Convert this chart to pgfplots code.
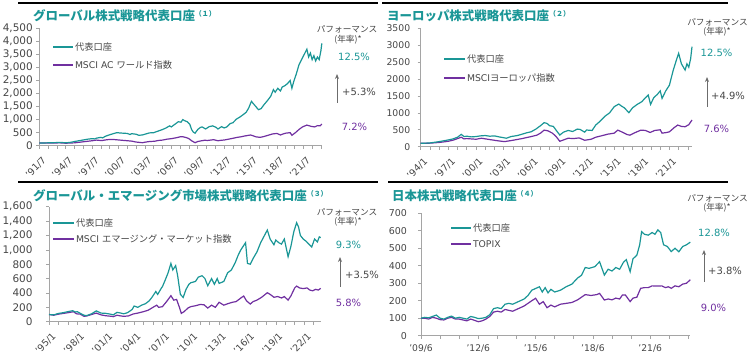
\documentclass[border=0pt]{standalone}
\usepackage{fontspec}
\setmainfont{DejaVu Sans}
\newfontfamily\jp{Noto Sans CJK JP}
\usepackage{pgfplots}
\pgfplotsset{compat=1.18}
\usetikzlibrary{arrows.meta}
\definecolor{tealc}{RGB}{26,150,150}
\definecolor{purp}{RGB}{112,48,160}
\definecolor{axgray}{RGB}{165,165,165}
\definecolor{txtgray}{RGB}{70,70,70}
\newcommand\fs[1]{\fontsize{#1}{#1}\selectfont}
\pgfplotsset{
  panel/.style={
    scale only axis, anchor=south west,
    axis x line*=bottom, axis y line*=left,
    axis line style={axgray, line width=0.8bp},
    every tick/.style={axgray, line width=0.6bp},
    tick align=outside, major tick length=3bp, minor tick length=3bp,
    ymin=0, clip=false,
    ticklabel style={txtgray},
    /pgf/number format/assume math mode=true,
    tealp/.style={tealc, line width=1.2bp},
    purpp/.style={purp, line width=1.2bp},
  },
  rotx/.style={xticklabel style={rotate=45, anchor=north east, font=\fs{9.5}, yshift=-3.5bp}},
}
\begin{document}
\begin{tikzpicture}
\useasboundingbox (0bp,0bp) rectangle (750bp,360bp);
% ---------------- Panel 1 ----------------
\begin{axis}[panel, rotx, at={(39.3bp,214.3bp)}, width=282.7bp, height=117.4bp,
  xmin=1991.5, xmax=2023.62, ymax=4500, ytick={0,500,...,4500},
  yticklabel style={font=\fs{10.5}},
  xtick={1991.5,1994.5,...,2021.5},
  minor xtick={1991.5,1992.5,...,2023.5},
  xticklabels={'91/7,'94/7,'97/7,'00/7,'03/7,'06/7,'09/7,'12/7,'15/7,'18/7,'21/7}]
\addplot[purpp] coordinates {(1991.5,100)(1992.3,105)(1993.0,100)(1993.8,110)(1994.5,95)(1995.5,110)(1996.5,150)(1997.5,190)(1998.0,215)(1998.6,195)(1999.0,220)(1999.5,240)(2000.0,235)(2000.5,220)(2001.0,205)(2001.5,190)(2002.0,175)(2002.5,140)(2003.2,115)(2003.7,145)(2004.0,160)(2004.6,170)(2005.0,200)(2005.5,215)(2006.0,250)(2006.5,270)(2007.0,300)(2007.5,340)(2007.8,345)(2008.2,310)(2008.5,270)(2008.8,190)(2009.2,115)(2009.5,160)(2009.8,180)(2010.3,210)(2010.6,200)(2011.3,230)(2011.8,190)(2012.2,210)(2012.5,217)(2013.0,250)(2013.3,270)(2014.0,320)(2014.4,340)(2014.8,370)(2015.5,410)(2015.8,380)(2016.1,340)(2016.6,320)(2017.0,350)(2017.3,380)(2018.0,450)(2018.5,470)(2018.9,410)(2019.2,450)(2019.5,480)(2020.0,500)(2020.2,400)(2020.6,500)(2021.0,620)(2021.4,720)(2021.9,790)(2022.2,760)(2022.4,740)(2022.8,720)(2023.1,770)(2023.4,760)(2023.6,830)};
\addplot[tealp] coordinates {(1991.5,100)(1992.0,105)(1992.5,110)(1993.0,115)(1993.5,120)(1994.0,125)(1994.5,110)(1995.0,125)(1995.5,160)(1996.0,190)(1996.5,220)(1997.0,250)(1997.5,270)(1997.8,260)(1998.0,290)(1998.5,320)(1998.7,300)(1999.0,360)(1999.5,420)(2000.0,470)(2000.3,500)(2000.6,490)(2001.0,480)(2001.5,470)(2001.8,430)(2002.0,460)(2002.5,440)(2002.8,400)(2003.2,410)(2003.6,450)(2004.0,490)(2004.5,500)(2005.0,560)(2005.5,620)(2005.9,680)(2006.3,760)(2006.5,720)(2006.9,820)(2007.3,920)(2007.6,900)(2007.8,1000)(2008.0,960)(2008.3,920)(2008.6,820)(2008.8,620)(2009.0,520)(2009.2,480)(2009.5,620)(2009.8,700)(2010.0,720)(2010.4,640)(2010.8,730)(2011.2,760)(2011.6,700)(2011.8,640)(2012.2,730)(2012.5,680)(2012.8,720)(2013.2,850)(2013.5,880)(2013.9,1020)(2014.3,1100)(2014.7,1200)(2015.0,1280)(2015.3,1450)(2015.6,1700)(2015.8,1620)(2016.1,1500)(2016.4,1380)(2016.7,1420)(2017.0,1560)(2017.4,1720)(2017.8,1900)(2018.1,2150)(2018.3,2050)(2018.6,2200)(2018.9,2100)(2019.1,2250)(2019.4,2300)(2019.7,2380)(2020.0,2500)(2020.2,2200)(2020.4,2450)(2020.7,2750)(2021.0,3100)(2021.3,3300)(2021.6,3500)(2021.9,3700)(2022.1,3400)(2022.3,3550)(2022.5,3300)(2022.7,3450)(2022.9,3250)(2023.1,3400)(2023.3,3300)(2023.5,3650)(2023.6,3920)};
\end{axis}
% ---------------- Panel 2 ----------------
\begin{axis}[panel, rotx, at={(420.7bp,213.3bp)}, width=271.3bp, height=118.4bp,
  xmin=1994, xmax=2023.45, ymax=3500, ytick={0,500,...,3500},
  /pgf/number format/1000 sep={},
  yticklabel style={font=\fs{9.3}, xshift=-4bp},
  xtick={1994,1997,...,2021},
  minor xtick={1994,1995,...,2023},
  xticklabels={'94/1,'97/1,'00/1,'03/1,'06/1,'09/1,'12/1,'15/1,'18/1,'21/1}]
\addplot[purpp] coordinates {(1994.0,100)(1995.0,105)(1996.0,125)(1997.0,160)(1997.6,200)(1998.4,280)(1998.7,230)(1999.0,240)(2000.0,220)(2000.6,250)(2001.5,210)(2002.5,170)(2003.1,150)(2004.0,190)(2005.0,240)(2006.0,300)(2006.6,340)(2007.0,400)(2007.4,490)(2007.8,470)(2008.3,400)(2008.7,300)(2009.1,160)(2009.5,200)(2010.0,250)(2010.6,240)(2011.2,260)(2011.8,190)(2012.5,220)(2013.0,280)(2013.6,320)(2014.3,370)(2015.0,400)(2015.4,490)(2015.8,440)(2016.4,360)(2016.7,340)(2017.3,420)(2017.9,490)(2018.4,480)(2018.9,420)(2019.4,480)(2020.0,500)(2020.2,400)(2020.7,420)(2021.0,440)(2021.5,560)(2021.9,640)(2022.3,600)(2022.7,590)(2023.1,650)(2023.45,790)};
\addplot[tealp] coordinates {(1994.0,100)(1994.5,105)(1995.0,110)(1995.5,130)(1996.0,150)(1996.5,175)(1997.0,200)(1997.5,230)(1998.0,280)(1998.4,365)(1998.7,300)(1999.0,310)(1999.5,290)(2000.0,300)(2000.5,320)(2001.0,330)(2001.5,310)(2002.0,320)(2002.5,290)(2003.0,266)(2003.3,250)(2003.8,300)(2004.5,330)(2005.0,370)(2005.5,410)(2006.0,443)(2006.5,520)(2007.0,620)(2007.4,710)(2007.7,690)(2008.0,620)(2008.4,600)(2008.8,450)(2009.1,345)(2009.5,430)(2010.0,480)(2010.5,450)(2011.0,520)(2011.3,510)(2011.8,430)(2012.0,493)(2012.6,480)(2013.0,640)(2013.5,760)(2014.0,900)(2014.5,1000)(2015.0,1182)(2015.5,1261)(2015.8,1200)(2016.1,1150)(2016.6,1005)(2017.0,1150)(2017.5,1250)(2018.0,1330)(2018.4,1450)(2018.7,1527)(2018.95,1250)(2019.3,1450)(2019.7,1550)(2020.0,1650)(2020.2,1430)(2020.6,1650)(2021.0,1820)(2021.4,2250)(2021.8,2600)(2022.0,2759)(2022.3,2450)(2022.7,2266)(2022.9,2450)(2023.1,2350)(2023.3,2600)(2023.45,2956)};
\end{axis}
% ---------------- Panel 3 ----------------
\begin{axis}[panel, rotx, at={(49bp,38.3bp)}, width=271.7bp, height=115bp,
  xmin=1995, xmax=2023.75, ymax=1600, ytick={0,200,...,1600},
  yticklabel style={font=\fs{10.5}, xshift=-10bp},
  xtick={1995,1998,...,2022},
  minor xtick={1995,1996,...,2023},
  xticklabels={'95/1,'98/1,'01/1,'04/1,'07/1,'10/1,'13/1,'16/1,'19/1,'22/1}]
\addplot[purpp] coordinates {(1995.0,100)(1995.5,90)(1996.0,105)(1996.5,115)(1997.0,125)(1997.6,139)(1997.9,110)(1998.3,105)(1998.7,75)(1999.0,80)(1999.5,100)(2000.0,120)(2000.5,95)(2001.0,83)(2001.6,75)(2001.8,70)(2002.2,90)(2002.6,80)(2002.9,75)(2003.4,80)(2003.9,107)(2004.4,120)(2005.0,140)(2005.5,160)(2006.0,200)(2006.4,230)(2006.6,200)(2007.0,209)(2007.5,290)(2007.9,362)(2008.2,300)(2008.5,310)(2008.8,200)(2009.0,116)(2009.3,140)(2009.7,190)(2010.0,209)(2010.6,225)(2011.0,240)(2011.4,235)(2011.8,190)(2012.2,230)(2012.6,200)(2013.0,270)(2013.5,230)(2013.9,250)(2014.4,270)(2014.8,280)(2015.3,330)(2015.6,357)(2015.9,290)(2016.3,246)(2016.6,280)(2017.0,300)(2017.5,340)(2018.1,403)(2018.4,380)(2018.8,340)(2019.2,350)(2019.6,330)(2019.9,350)(2020.3,300)(2020.6,360)(2021.0,470)(2021.2,496)(2021.5,470)(2021.9,460)(2022.3,470)(2022.6,440)(2022.9,430)(2023.2,450)(2023.5,440)(2023.75,464)};
\addplot[tealp] coordinates {(1995.0,100)(1995.5,95)(1996.0,115)(1996.5,125)(1997.0,140)(1997.5,153)(1997.8,135)(1998.0,139)(1998.4,110)(1998.7,90)(1999.0,85)(1999.5,110)(2000.0,150)(2000.5,120)(2001.0,116)(2001.5,105)(2001.8,95)(2002.2,130)(2002.6,120)(2002.9,110)(2003.3,125)(2003.8,170)(2004.0,218)(2004.4,200)(2004.8,230)(2005.2,250)(2005.6,290)(2005.9,340)(2006.3,420)(2006.5,380)(2006.9,470)(2007.0,487)(2007.3,580)(2007.6,680)(2007.9,811)(2008.1,720)(2008.4,780)(2008.6,650)(2008.9,380)(2009.2,338)(2009.5,450)(2009.8,520)(2010.0,542)(2010.5,560)(2010.8,620)(2011.2,640)(2011.5,600)(2011.8,500)(2012.2,600)(2012.5,520)(2012.8,600)(2013.0,533)(2013.5,560)(2013.9,680)(2014.3,720)(2014.7,820)(2015.0,920)(2015.3,1000)(2015.6,1060)(2015.8,1099)(2016.0,811)(2016.3,800)(2016.6,880)(2017.0,970)(2017.4,1100)(2017.8,1200)(2018.1,1275)(2018.4,1150)(2018.8,1070)(2019.0,1136)(2019.3,1100)(2019.6,1080)(2019.9,1150)(2020.3,904)(2020.6,1050)(2020.9,1250)(2021.2,1377)(2021.4,1320)(2021.6,1200)(2021.9,1150)(2022.2,1120)(2022.5,1080)(2022.8,1040)(2023.1,1150)(2023.4,1110)(2023.6,1180)(2023.75,1170)};
\end{axis}
% ---------------- Panel 4 ----------------
\begin{axis}[panel, at={(421bp,24.3bp)}, width=269.3bp, height=122.4bp,
  xmin=2009.5, xmax=2023.6, ymax=700, ytick={0,100,...,700},
  yticklabel style={font=\fs{9.5}, xshift=-7.5bp},
  xticklabel style={font=\fs{9.2}, yshift=-2bp},
  xtick={2009.5,2012.5,...,2021.5},
  minor xtick={2009.5,2010.5,...,2023.5},
  xticklabels={'09/6,'12/6,'15/6,'18/6,'21/6}]
\addplot[purpp] coordinates {(2009.5,100)(2009.7,100)(2009.9,95)(2010.1,105)(2010.3,100)(2010.5,92)(2010.7,90)(2010.9,100)(2011.1,105)(2011.3,95)(2011.5,95)(2011.7,90)(2011.9,85)(2012.1,95)(2012.3,88)(2012.5,80)(2012.7,85)(2012.9,95)(2013.1,110)(2013.3,135)(2013.5,140)(2013.7,135)(2013.9,150)(2014.1,145)(2014.3,140)(2014.6,155)(2014.9,170)(2015.1,185)(2015.3,200)(2015.5,214)(2015.7,180)(2015.9,195)(2016.1,160)(2016.3,175)(2016.5,165)(2016.8,180)(2017.1,185)(2017.4,190)(2017.7,205)(2017.9,220)(2018.1,235)(2018.4,230)(2018.7,235)(2018.85,242)(2019.1,204)(2019.3,210)(2019.5,205)(2019.7,215)(2019.9,210)(2020.05,233)(2020.2,233)(2020.45,195)(2020.6,215)(2020.8,220)(2021.0,271)(2021.2,275)(2021.4,275)(2021.6,285)(2021.9,284)(2022.1,285)(2022.3,275)(2022.45,280)(2022.6,271)(2022.8,285)(2023.0,280)(2023.2,295)(2023.4,300)(2023.6,320)};
\addplot[tealp] coordinates {(2009.5,100)(2009.7,105)(2009.9,102)(2010.1,110)(2010.3,118)(2010.5,100)(2010.7,95)(2010.9,105)(2011.1,112)(2011.3,100)(2011.5,105)(2011.7,100)(2011.9,95)(2012.1,110)(2012.3,105)(2012.5,98)(2012.7,100)(2012.9,105)(2013.1,120)(2013.3,155)(2013.5,160)(2013.7,155)(2013.9,180)(2014.1,185)(2014.3,180)(2014.6,195)(2014.9,210)(2015.1,230)(2015.3,260)(2015.5,270)(2015.7,280)(2015.85,250)(2016.0,275)(2016.15,245)(2016.3,265)(2016.5,250)(2016.8,260)(2017.1,280)(2017.4,295)(2017.7,330)(2017.9,345)(2018.1,390)(2018.3,385)(2018.6,395)(2018.85,423)(2019.1,347)(2019.3,380)(2019.5,370)(2019.7,390)(2019.9,380)(2020.1,420)(2020.25,435)(2020.45,366)(2020.6,440)(2020.8,460)(2020.95,520)(2021.05,595)(2021.2,580)(2021.4,575)(2021.6,590)(2021.75,580)(2021.9,605)(2022.05,590)(2022.2,520)(2022.4,510)(2022.6,481)(2022.8,500)(2023.0,480)(2023.2,510)(2023.4,520)(2023.6,535)};
\end{axis}
% ---------------- decorations ----------------
\draw[line width=2bp] (18bp,357bp) -- (378bp,357bp);
\draw[line width=2bp] (382bp,357bp) -- (728bp,357bp);
\draw[line width=2bp] (18bp,178bp) -- (378bp,178bp);
\draw[line width=2bp] (388bp,178bp) -- (728bp,178bp);
% titles
\node[anchor=base west, inner sep=0, text=tealc] at (33bp,339.5bp) {\jp\bfseries\fs{12.5}グローバル株式戦略代表口座\raisebox{4bp}{\fs{7}（１）}};
\node[anchor=base west, inner sep=0, text=tealc] at (387bp,339.5bp) {\jp\bfseries\fs{12.5}ヨーロッパ株式戦略代表口座\raisebox{4bp}{\fs{7}（２）}};
\node[anchor=base west, inner sep=0, text=tealc] at (33bp,159.5bp) {\jp\bfseries\fs{12.5}グローバル・エマージング市場株式戦略代表口座\raisebox{4bp}{\fs{7}（３）}};
\node[anchor=base west, inner sep=0, text=tealc] at (392bp,159.5bp) {\jp\bfseries\fs{12.5}日本株式戦略代表口座\raisebox{4bp}{\fs{7}（４）}};
% legends
\begin{scope}[every node/.style={anchor=west, inner sep=1bp, font=\fs{9.3}, text=txtgray}]
\draw[tealc, line width=2bp] (53bp,313bp) -- (73bp,313bp) node[right] {\jp 代表口座};
\draw[purp, line width=2bp] (53bp,295bp) -- (73bp,295bp) node[right] {MSCI AC {\jp ワールド指数}};
\draw[tealc, line width=2bp] (444bp,301bp) -- (465bp,301bp) node[right] {\jp 代表口座};
\draw[purp, line width=2bp] (444bp,282bp) -- (465bp,282bp) node[right] {MSCI{\jp ヨーロッパ指数}};
\draw[tealc, line width=2bp] (53bp,137bp) -- (74bp,137bp) node[right] {\jp 代表口座};
\draw[purp, line width=2bp] (53bp,121bp) -- (74bp,121bp) node[right] {MSCI {\jp エマージング・マーケット指数}};
\draw[tealc, line width=2bp] (451bp,132bp) -- (471bp,132bp) node[right] {\jp 代表口座};
\draw[purp, line width=2bp] (451bp,116bp) -- (471bp,116bp) node[right] {TOPIX};
\end{scope}
% performance annotations
\begin{scope}[every node/.style={inner sep=0, text=txtgray}]
\node at (347bp,331bp) {\jp\fs{8.7}パフォーマンス};
\node at (348bp,320bp) {\jp\fs{8.7}(年率)*};
\node[text=tealc] at (354bp,303bp) {\fs{10}12.5\%};
\node[anchor=west] at (342bp,268bp) {\fs{10}+5.3\%};
\node[text=purp] at (354.5bp,233bp) {\fs{10}7.2\%};
\node at (717.5bp,338bp) {\jp\fs{8.7}パフォーマンス};
\node at (717bp,328bp) {\jp\fs{8.7}(年率)*};
\node[text=tealc] at (716.5bp,307bp) {\fs{10}12.5\%};
\node[anchor=west] at (711bp,264bp) {\fs{10}+4.9\%};
\node[text=purp] at (716.5bp,231bp) {\fs{10}7.6\%};
\node at (347bp,148bp) {\jp\fs{8.7}パフォーマンス};
\node at (348bp,138bp) {\jp\fs{8.7}(年率)*};
\node[text=tealc] at (348.5bp,115bp) {\fs{10}9.3\%};
\node[anchor=west] at (345bp,85bp) {\fs{10}+3.5\%};
\node[text=purp] at (348.5bp,57bp) {\fs{10}5.8\%};
\node at (717.5bp,162bp) {\jp\fs{8.7}パフォーマンス};
\node at (717bp,152bp) {\jp\fs{8.7}(年率)*};
\node[text=tealc] at (714bp,127bp) {\fs{10}12.8\%};
\node[anchor=west] at (708bp,89bp) {\fs{10}+3.8\%};
\node[text=purp] at (713.5bp,52bp) {\fs{10}9.0\%};
\end{scope}
\begin{scope}[gray!85!black, line width=1bp, -{Stealth[length=5bp,width=4bp]}]
\draw (337bp,257bp) -- (337bp,286bp);
\draw (707bp,253bp) -- (707bp,283bp);
\draw (340bp,73bp) -- (340bp,103bp);
\draw (704bp,78bp) -- (704bp,110bp);
\end{scope}
\end{tikzpicture}
\end{document}
